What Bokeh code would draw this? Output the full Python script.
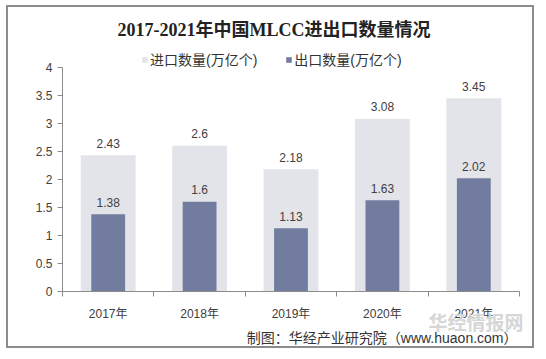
from bokeh.plotting import figure
from bokeh.models import (ColumnDataSource, Range1d, FixedTicker, LabelSet, Title,
                          Legend, LegendItem)
from bokeh.core.properties import value
from bokeh.embed import file_html
from bokeh.resources import INLINE

years = ["2017年", "2018年", "2019年", "2020年", "2021年"]
imports = [2.43, 2.6, 2.18, 3.08, 3.45]
exports = [1.38, 1.6, 1.13, 1.63, 2.02]
y_ticks = [0, 0.5, 1, 1.5, 2, 2.5, 3, 3.5, 4]
y_max = 4
title_text = "2017-2021年中国MLCC进出口数量情况"
import_name = "进口数量(万亿个)"
export_name = "出口数量(万亿个)"
source_text = "制图：华经产业研究院（www.huaon.com）"
watermark = "华经情报网"

SANS = "Liberation Sans, Noto Sans CJK SC"
TXT = "#404040"
IMP_COL = "#E3E4EA"
EXP_COL = "#727C9E"

centers = [i + 0.5 for i in range(len(years))]
bounds = [float(i) for i in range(len(years) + 1)]

src = ColumnDataSource(dict(
    x=centers, imp=imports, exp=exports,
    imp_lbl=[str(v) for v in imports], exp_lbl=[str(v) for v in exports],
))

# frame reaches a little above the top tick so the legend can sit inside it
p = figure(width=528, height=343, output_backend="svg", toolbar_location=None,
           x_range=Range1d(0, len(years)), y_range=Range1d(0, y_max + 24 / 56.25),
           min_border_left=54, min_border_right=17, min_border_top=36, min_border_bottom=58)
p.styles = {"border": "2px solid #8C8C8C", "margin": "5px 0 0 6px"}
p.outline_line_color = None
p.xgrid.visible = False
p.ygrid.visible = False
p.background_fill_color = "white"
p.border_fill_color = "white"

r_imp = p.vbar(x="x", top="imp", width=0.6, source=src, fill_color=IMP_COL, line_color=None)
r_exp = p.vbar(x="x", top="exp", width=0.37, source=src, fill_color=EXP_COL, line_color=None)

for col, lbl in (("imp", "imp_lbl"), ("exp", "exp_lbl")):
    p.add_layout(LabelSet(x="x", y=col, text=lbl, source=src, y_offset=12,
                          text_align="center", text_baseline="middle",
                          text_font=value(SANS), text_font_size="12px", text_color=TXT))

# axes
yax = p.yaxis[0]
yax.ticker = FixedTicker(ticks=y_ticks)
yax.bounds = (0, y_max)
yax.axis_line_color = "#8C8C8C"
yax.major_tick_line_color = "#8C8C8C"
yax.major_tick_out = 5
yax.major_tick_in = 0
yax.minor_tick_line_color = None
yax.major_label_standoff = 5
yax.major_label_text_font = SANS
yax.major_label_text_font_size = "12px"
yax.major_label_text_color = TXT

xax = p.xaxis[0]
xax.ticker = FixedTicker(ticks=centers, minor_ticks=bounds)
xax.major_label_overrides = {c: y for c, y in zip(centers, years)}
xax.axis_line_color = "#8C8C8C"
xax.major_tick_line_color = None
xax.major_tick_out = 5
xax.major_tick_in = 0
xax.minor_tick_line_color = "#8C8C8C"
xax.minor_tick_out = 5
xax.minor_tick_in = 0
xax.major_label_standoff = 10
xax.major_label_text_font = SANS
xax.major_label_text_font_size = "12px"
xax.major_label_text_color = TXT

# title in the figure's own title slot
p.title.text = title_text
p.title.align = "left"
p.title.offset = 55
p.title.standoff = 8
p.title.text_font = "Liberation Serif, Noto Sans CJK SC"
p.title.text_font_style = "bold"
p.title.text_font_size = "18px"
p.title.text_color = "#222222"

# legend inside the top strip of the frame
legend = Legend(items=[LegendItem(label=import_name, renderers=[r_imp]),
                       LegendItem(label=export_name, renderers=[r_exp])],
                orientation="horizontal", location=(79, 222),
                padding=0, margin=0, spacing=28, label_standoff=2,
                glyph_width=7, glyph_height=7, label_height=16,
                label_text_font=SANS, label_text_font_size="14px",
                label_text_color="#333333", border_line_color=None,
                background_fill_alpha=0)
p.add_layout(legend, "center")

# faint watermark, tucked up against the x axis
p.add_layout(Title(text=watermark, align="right", offset=-4, standoff=-28,
                   vertical_align="middle",
                   text_font=SANS, text_font_style="bold",
                   text_font_size="19px", text_color="#D6D6D6"), "below")

# source line below the x axis
p.add_layout(Title(text=source_text, align="right", offset=2, standoff=9,
                   text_font=SANS, text_font_style="normal",
                   text_font_size="14px", text_color="#333333"), "below")

open("out.html", "w").write(file_html(p, INLINE))
